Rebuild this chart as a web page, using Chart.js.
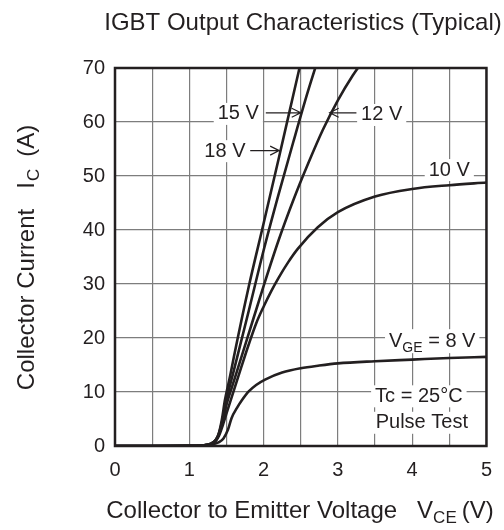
<!DOCTYPE html>
<html>
<head>
<meta charset="utf-8">
<script src="https://cdn.jsdelivr.net/npm/chart.js@4"></script>
<style>
  body { margin: 0; background: #fff; }
  #wrap { width: 504px; height: 530px; }
</style>
</head>
<body>
<div id="wrap"><canvas id="igbtChart"></canvas></div>
<script>
// Curves (Vce in V, Ic in A)
const vce18 = [0, 0.5, 1.0, 1.2, 1.3, 1.36, 1.4, 1.44, 1.48, 1.55, 1.6, 1.8, 2.0, 2.2, 2.4, 2.55];
const ic18  = [0, 0, 0.05, 0.15, 0.5, 1.2, 2.5, 5, 8.5, 13, 16.5, 29.5, 41.2, 53, 65, 74];

const vce15 = [0, 0.5, 1.0, 1.2, 1.3, 1.36, 1.4, 1.45, 1.5, 1.6, 1.8, 2.0, 2.2, 2.4, 2.6, 2.8];
const ic15  = [0, 0, 0.05, 0.15, 0.5, 1.2, 2.4, 5, 8.5, 14, 25, 36.2, 46.5, 56.3, 65.8, 74.5];

const vce12 = [0, 0.5, 1.0, 1.2, 1.3, 1.36, 1.4, 1.45, 1.5, 1.6, 1.8, 2.0, 2.2, 2.4, 2.6, 2.8, 3.0, 3.2, 3.4];
const ic12  = [0, 0, 0.05, 0.15, 0.45, 1.1, 2.2, 4.6, 7.6, 12, 20.8, 29.6, 38, 45.5, 52.3, 58.6, 64, 68.6, 72.5];

const vce10 = [0, 0.5, 1.0, 1.2, 1.3, 1.36, 1.4, 1.45, 1.5, 1.6, 1.7, 1.8, 1.9, 2.0, 2.1, 2.2, 2.33, 2.46, 2.73, 3.0, 3.5, 4.0, 4.5, 5.0];
const ic10  = [0, 0, 0.05, 0.15, 0.4, 1.0, 1.9, 3.8, 6, 10.3, 14.6, 18.8, 22.7, 25.8, 28.6, 31.1, 34, 36.5, 40.5, 43.3, 46.2, 47.6, 48.3, 48.8];

const vce8 = [0, 0.5, 1.0, 1.2, 1.3, 1.4, 1.46, 1.52, 1.57, 1.64, 1.71, 1.8, 1.9, 2.02, 2.25, 2.5, 2.75, 3.0, 3.5, 4.0, 4.5, 5.0];
const ic8  = [0, 0, 0.05, 0.1, 0.25, 0.7, 1.4, 3, 5.2, 7, 8.5, 10.1, 11.3, 12.3, 13.6, 14.4, 14.9, 15.3, 15.7, 16.0, 16.3, 16.5];

const xTicks = [0, 1, 2, 3, 4, 5];
const yTicks = [0, 10, 20, 30, 40, 50, 60, 70];

const FONT = "'Liberation Sans', Arial, sans-serif";
const INK = '#231f20';

function pts(xs, ys) {
    return xs.map((x, i) => ({ x: x, y: ys[i] }));
}

function curve(label, xs, ys) {
    return {
        label: label,
        data: pts(xs, ys),
        borderColor: INK,
        borderWidth: 2.6,
        pointRadius: 0,
        fill: false,
        cubicInterpolationMode: 'monotone'
    };
}

// label boxes and arrows, in data coords
function drawLabel(ctx, text, cx, cy, size) {
    ctx.font = size + 'px ' + FONT;
    const w = ctx.measureText(text).width;
    ctx.fillStyle = '#fff';
    ctx.fillRect(cx - w / 2 - 4, cy - size * 0.55, w + 8, size * 1.1);
    ctx.fillStyle = INK;
    ctx.textAlign = 'center';
    ctx.textBaseline = 'middle';
    ctx.fillText(text, cx, cy);
}

function drawArrow(ctx, x1, y1, x2, y2) {
    ctx.strokeStyle = INK;
    ctx.lineWidth = 1.2;
    ctx.beginPath();
    ctx.moveTo(x1, y1);
    ctx.lineTo(x2, y2);
    const dir = Math.sign(x2 - x1);
    ctx.moveTo(x2 - dir * 9, y2 - 4.5);
    ctx.lineTo(x2, y2);
    ctx.lineTo(x2 - dir * 9, y2 + 4.5);
    ctx.stroke();
}

const decorations = {
    id: 'decorations',
    afterDatasetsDraw(chart) {
        const ctx = chart.ctx;
        const xs = chart.scales.x, ys = chart.scales.y;
        const X = v => xs.getPixelForValue(v);
        const Y = v => ys.getPixelForValue(v);
        const a = chart.chartArea;
        ctx.save();

        drawLabel(ctx, '15 V', X(1.66), Y(61.5), 20);
        drawArrow(ctx, X(2.03), Y(61.7), X(2.50), Y(61.7));
        drawLabel(ctx, '12 V', X(3.59), Y(61.3), 20);
        drawArrow(ctx, X(3.25), Y(61.7), X(2.89), Y(61.7));
        drawLabel(ctx, '18 V', X(1.48), Y(54.6), 20);
        drawArrow(ctx, X(1.82), Y(54.7), X(2.21), Y(54.7));
        drawLabel(ctx, '10 V', X(4.5), Y(51.1), 20);
        drawLabel(ctx, 'Tc = 25°C', X(4.09), Y(9.2), 20);
        drawLabel(ctx, 'Pulse Test', X(4.13), Y(4.3), 20);

        // V_GE = 8 V with subscript
        ctx.font = '20px ' + FONT;
        const wV = ctx.measureText('V').width;
        ctx.font = '14px ' + FONT;
        const wSub = ctx.measureText('GE').width;
        ctx.font = '20px ' + FONT;
        const wRest = ctx.measureText(' = 8 V').width;
        const tot = wV + wSub + wRest;
        const cx = X(4.27), cy = Y(19.6);
        ctx.fillStyle = '#fff';
        ctx.fillRect(cx - tot / 2 - 4, cy - 11, tot + 8, 24);
        ctx.fillStyle = INK;
        ctx.textAlign = 'left';
        ctx.textBaseline = 'alphabetic';
        let x0 = cx - tot / 2;
        ctx.fillText('V', x0, cy + 7);
        ctx.font = '14px ' + FONT;
        ctx.fillText('GE', x0 + wV, cy + 12);
        ctx.font = '20px ' + FONT;
        ctx.fillText(' = 8 V', x0 + wV + wSub, cy + 7);

        // frame
        ctx.strokeStyle = INK;
        ctx.lineWidth = 2.5;
        ctx.strokeRect(a.left, a.top, a.right - a.left, a.bottom - a.top);
        ctx.restore();
    },
    afterDraw(chart) {
        const ctx = chart.ctx;
        ctx.save();
        ctx.fillStyle = INK;
        ctx.textBaseline = 'alphabetic';

        // chart title
        ctx.font = '24px ' + FONT;
        ctx.textAlign = 'center';
        ctx.fillText('IGBT Output Characteristics (Typical)', 303, 30);

        // x axis title
        ctx.textAlign = 'left';
        const p1 = 'Collector to Emitter Voltage';
        ctx.font = '24px ' + FONT;
        const w1 = ctx.measureText(p1).width;
        const wV = ctx.measureText('V').width;
        const w3 = ctx.measureText('(V)').width;
        ctx.font = '17px ' + FONT;
        const w2 = ctx.measureText('CE').width;
        const gap1 = 20, gap2 = 5;
        let x0 = 300 - (w1 + gap1 + wV + w2 + gap2 + w3) / 2;
        ctx.font = '24px ' + FONT;
        ctx.fillText(p1, x0, 518);
        x0 += w1 + gap1;
        ctx.fillText('V', x0, 518);
        x0 += wV;
        ctx.font = '17px ' + FONT;
        ctx.fillText('CE', x0, 523);
        x0 += w2 + gap2;
        ctx.font = '24px ' + FONT;
        ctx.fillText('(V)', x0, 518);

        // y axis title, rotated
        ctx.translate(34, 258);
        ctx.rotate(-Math.PI / 2);
        const q1 = 'Collector Current';
        ctx.font = '24px ' + FONT;
        const v1 = ctx.measureText(q1).width;
        const vI = ctx.measureText('I').width;
        const v3 = ctx.measureText('(A)').width;
        ctx.font = '17px ' + FONT;
        const v2 = ctx.measureText('C').width;
        const g1 = 20, g2 = 12;
        let y0 = -(v1 + g1 + vI + v2 + g2 + v3) / 2;
        ctx.font = '24px ' + FONT;
        ctx.fillText(q1, y0, 0);
        y0 += v1 + g1;
        ctx.fillText('I', y0, 0);
        y0 += vI + 1;
        ctx.font = '17px ' + FONT;
        ctx.fillText('C', y0, 5);
        y0 += v2 + g2;
        ctx.font = '24px ' + FONT;
        ctx.fillText('(A)', y0, 0);
        ctx.restore();
    }
};

new Chart(document.getElementById('igbtChart'), {
    type: 'line',
    data: {
        datasets: [
            curve('18 V', vce18, ic18),
            curve('15 V', vce15, ic15),
            curve('12 V', vce12, ic12),
            curve('10 V', vce10, ic10),
            curve('8 V', vce8, ic8)
        ]
    },
    options: {
        responsive: true,
        maintainAspectRatio: false,
        animation: false,
        layout: { padding: { top: 68, right: 12, bottom: 0, left: 0 } },
        plugins: {
            legend: { display: false },
            title: { display: false },
            tooltip: { enabled: false }
        },
        scales: {
            x: {
                type: 'linear',
                min: 0,
                max: 5,
                afterFit: s => { s.height = 84; },
                border: { display: false },
                grid: { color: '#7d7d7d', lineWidth: 1.2, drawTicks: false },
                ticks: {
                    stepSize: 0.5,
                    autoSkip: false,
                    maxRotation: 0,
                    padding: 12,
                    color: INK,
                    font: { family: FONT, size: 20 },
                    callback: v => xTicks.includes(v) ? String(v) : ''
                }
            },
            y: {
                type: 'linear',
                min: 0,
                max: 70,
                afterFit: s => { s.width = 115; },
                border: { display: false },
                grid: { color: '#7d7d7d', lineWidth: 1.2, drawTicks: false },
                ticks: {
                    stepSize: 10,
                    padding: 10,
                    color: INK,
                    font: { family: FONT, size: 20 },
                    callback: v => yTicks.includes(v) ? String(v) : ''
                }
            }
        }
    },
    plugins: [decorations]
});
</script>
</body>
</html>
